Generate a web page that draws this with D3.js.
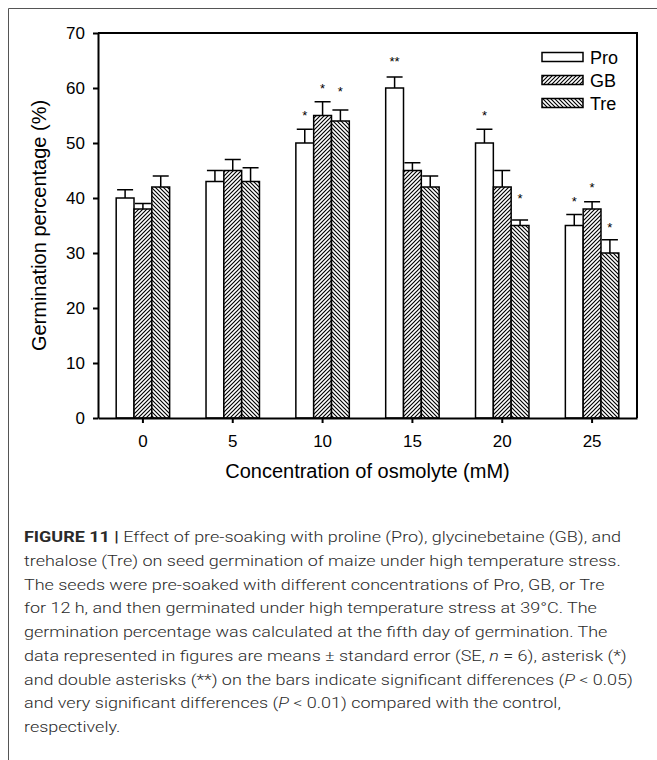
<!DOCTYPE html>
<html><head><meta charset="utf-8">
<script src="https://cdn.jsdelivr.net/npm/d3@7"></script>
<style>body{margin:0;background:#fff}svg{display:block}</style>
</head><body><svg id="c" width="657" height="760"></svg>
<script>
// ---------- data ----------
const categories = ["0", "5", "10", "15", "20", "25"];
const seriesNames = ["Pro", "GB", "Tre"];
const proValues = [40, 43, 50, 60, 50, 35];
const proErrors = [1.5, 2, 2.5, 2, 2.5, 2];
const gbValues  = [38, 45, 55, 45, 42, 38];
const gbErrors  = [1, 2, 2.5, 1.4, 3, 1.3];
const treValues = [42, 43, 54, 42, 35, 30];
const treErrors = [2, 2.5, 2, 2, 1, 2.4];
const proSig = ["", "", "*", "**", "*", "*"];
const gbSig  = ["", "", "*", "", "", "*"];
const treSig = ["", "", "*", "", "*", "*"];
const proSigAt = [null, null, 55.5, 65.3, 55.5, 40];
const gbSigAt  = [null, null, 60.5, null, null, 42.4];
const treSigAt = [null, null, 60, null, 40.5, 35.1];
const yTicks = [0, 10, 20, 30, 40, 50, 60, 70];
const yLabel = "Germination percentage (%)";
const xLabel = "Concentration of osmolyte (mM)";
const captionLines = [
  [["FIGURE 11 | ", "b"], ["Effect of pre-soaking with proline (Pro), glycinebetaine (GB), and", ""]],
  [["trehalose (Tre) on seed germination of maize under high temperature stress.", ""]],
  [["The seeds were pre-soaked with different concentrations of Pro, GB, or Tre", ""]],
  [["for 12 h, and then germinated under high temperature stress at 39°C. The", ""]],
  [["germination percentage was calculated at the fifth day of germination. The", ""]],
  [["data represented in figures are means \u00b1 standard error (SE, ", ""], ["n", "i"], [" = 6), asterisk (*)", ""]],
  [["and double asterisks (**) on the bars indicate significant differences (", ""], ["P", "i"], [" < 0.05)", ""]],
  [["and very significant differences (", ""], ["P", "i"], [" < 0.01) compared with the control,", ""]],
  [["respectively.", ""]]
];
const captionLineEnds = [637, 627, 607, 600, 611, 652, 651, 498, 142];

// ---------- layout ----------
const svg = d3.select("#c");
const L = 98, R = 637, T = 33, B = 418;
const AX = "'Liberation Sans', Arial, sans-serif";

// outer figure frame (top & left visible)
svg.append("path").attr("d", "M8.5,760 V8.5 H657").attr("fill", "none")
  .attr("stroke", "#555").attr("stroke-width", 1);

// patterns
const defs = svg.append("defs");
function hatch(id, d) {
  const p = defs.append("pattern").attr("id", id).attr("patternUnits", "userSpaceOnUse")
    .attr("width", 4).attr("height", 4);
  p.append("rect").attr("width", 4).attr("height", 4).attr("fill", "#fff");
  p.append("path").attr("d", d).attr("stroke", "#000").attr("stroke-width", 1.15).attr("stroke-linecap", "square");
}
hatch("fwd", "M-1,1 L1,-1 M0,4 L4,0 M3,5 L5,3");
hatch("bwd", "M-1,3 L1,5 M0,0 L4,4 M3,-1 L5,1");
const fills = { Pro: "#fff", GB: "url(#fwd)", Tre: "url(#bwd)" };

const x = d3.scaleBand().domain(categories).range([L, R]).padding(0);
const y = d3.scaleLinear().domain([0, 70]).range([B, T]);
const groupW = x.bandwidth() * 0.595;
const xs = d3.scaleBand().domain(seriesNames).range([0, groupW]).padding(0);

const series = [
  { name: "Pro", v: proValues, e: proErrors, s: proSig, sa: proSigAt },
  { name: "GB", v: gbValues, e: gbErrors, s: gbSig, sa: gbSigAt },
  { name: "Tre", v: treValues, e: treErrors, s: treSig, sa: treSigAt }
];

const gBars = svg.append("g");
series.forEach(sr => {
  categories.forEach((c, i) => {
    const x0 = x(c) + (x.bandwidth() - groupW) / 2 + xs(sr.name);
    const w = xs.bandwidth();
    const cx = x0 + w / 2;
    gBars.append("rect").attr("x", x0).attr("y", y(sr.v[i])).attr("width", w)
      .attr("height", y(0) - y(sr.v[i])).attr("fill", fills[sr.name])
      .attr("stroke", "#000").attr("stroke-width", 1.5);
    const top = y(sr.v[i] + sr.e[i]);
    gBars.append("path").attr("d", `M${cx},${y(sr.v[i])} V${top} M${cx - 8},${top} H${cx + 8}`)
      .attr("stroke", "#000").attr("stroke-width", 1.5).attr("fill", "none");
    if (sr.s[i]) {
      gBars.append("text").attr("x", cx).attr("y", y(sr.sa[i]) + 7.5)
        .attr("text-anchor", "middle").attr("font-family", AX).attr("font-size", 13)
        .text(sr.s[i]);
    }
  });
});

// plot frame (top & right)
svg.append("path").attr("d", `M${L},${T} H${R} V${B}`).attr("fill", "none")
  .attr("stroke", "#000").attr("stroke-width", 2);

// axes
const yAxis = svg.append("g").attr("transform", `translate(${L},0)`)
  .call(d3.axisLeft(y).tickValues(yTicks).tickSize(5).tickSizeOuter(0).tickPadding(8));
const xAxis = svg.append("g").attr("transform", `translate(0,${B})`)
  .call(d3.axisBottom(x).tickSize(5).tickSizeOuter(0).tickPadding(12));
[yAxis, xAxis].forEach(a => {
  a.select(".domain").attr("stroke-width", 2);
  a.selectAll(".tick line").attr("stroke-width", 2);
  a.selectAll("text").attr("font-family", AX).attr("font-size", 17).attr("fill", "#000");
});

// axis titles
svg.append("text").attr("transform", `translate(46,${(T + B) / 2}) rotate(-90)`)
  .attr("text-anchor", "middle").attr("font-family", AX).attr("font-size", 20).text(yLabel);
svg.append("text").attr("x", (L + R) / 2).attr("y", 478).attr("text-anchor", "middle")
  .attr("font-family", AX).attr("font-size", 20).text(xLabel);

// legend
const lg = svg.append("g");
seriesNames.forEach((n, i) => {
  const cy = 57 + i * 23;
  lg.append("rect").attr("x", 542).attr("y", cy - 4.5).attr("width", 41).attr("height", 9)
    .attr("fill", fills[n]).attr("stroke", "#000").attr("stroke-width", 1.5);
  lg.append("text").attr("x", 590).attr("y", cy + 6.5).attr("font-family", AX)
    .attr("font-size", 18).text(n);
});

// caption: uniform horizontal compression to match the condensed face
const capTexts = captionLines.map((segs, i) => {
  const t = svg.append("text").attr("x", 0).attr("y", 0)
    .attr("font-family", "Roboto, 'Liberation Sans', sans-serif").attr("font-size", 15.5)
    .attr("font-weight", 300)
    .attr("fill", "#2a2a2a");
  segs.forEach(([txt, st]) => {
    const ts = t.append("tspan").text(txt);
    if (st === "b") ts.attr("font-weight", "bold");
    if (st === "i") ts.attr("font-style", "italic");
  });
  return t;
});
const ratios = capTexts.slice(0, 8).map((t, i) => (captionLineEnds[i] - 24) / t.node().getComputedTextLength());
const sx = d3.mean(ratios);
capTexts.forEach((t, i) => {
  t.attr("transform", `translate(24,${542 + i * 23.75}) scale(${sx},1)`);
});
</script></body></html>
